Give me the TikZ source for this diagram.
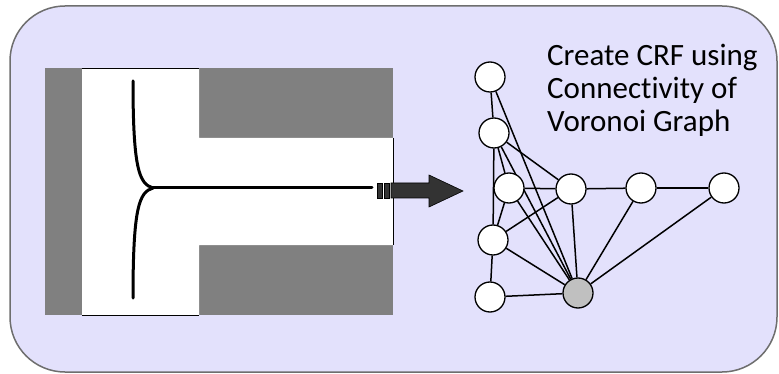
\documentclass[tikz,border=0pt]{standalone}
\usepackage{fontspec}
\setmainfont{Carlito}[Ligatures={NoCommon,NoDiscretionary,NoRare}]
\usepackage{tikz}
\usetikzlibrary{positioning, backgrounds}

\definecolor{panelfill}{HTML}{E3E1FC}
\definecolor{panelline}{HTML}{6E6E6E}
\definecolor{wallgray}{HTML}{808080}
\definecolor{arrowdark}{HTML}{333333}
\definecolor{hubgray}{HTML}{C0C0C0}

\pgfdeclarelayer{edgelayer}
\pgfsetlayers{background,edgelayer,main}

\begin{document}
\begin{tikzpicture}[
    x=1pt, y=-1pt,
    % Graph styles
    vtx/.style={circle, draw=black, line width=1.3pt, fill=white, minimum size=30pt, inner sep=0pt},
    hub/.style={vtx, fill=hubgray},
    link/.style={line width=1.5pt, draw=black},
    % Map styles
    wall/.style={fill=wallgray, draw=none},
    skel/.style={line width=3pt, draw=black, line cap=round},
    stripe/.style={fill=arrowdark, draw=black, line width=0.6pt},
    caption/.style={font=\fontsize{31}{33}\selectfont, align=left, anchor=north west, inner sep=0pt}
]
\useasboundingbox (0,0) rectangle (779,374);

% -----------------------------------------------------------
% Panel and map (background layer)
% -----------------------------------------------------------
\begin{scope}[on background layer]
    \draw[fill=panelfill, draw=panelline, line width=1.5pt, rounded corners=55pt] (10,6) rectangle (777,372);

    % T-shaped free space
    \fill[wall] (45,68) rectangle (393,315);
    \fill[white] (82,68) -- (199,68) -- (199,138) -- (393,138) -- (393,245)
        -- (199,245) -- (199,315) -- (82,315) -- cycle;
    \draw[line width=0.8pt] (82,68) -- (199,68);
    \draw[line width=0.8pt] (393,138) -- (393,245);
    \draw[line width=0.8pt] (82,315) -- (199,315);

    % Voronoi skeleton
    \coordinate (junc) at (153,188);
    \draw[skel] (133,81) .. controls (133,168) and (139,184) .. (junc);
    \draw[skel] (junc) .. controls (139,192) and (133,208) .. (133,298);
    \draw[skel] (junc) -- (372,188);

    % Striped block arrow
    \filldraw[stripe] (377,183) rectangle (382,198);
    \filldraw[stripe] (384,183) rectangle (389,198);
    \filldraw[stripe]
        (391,183) -- (429,183) -- (429,175) -- (463,191) -- (429,207) -- (429,198) -- (391,198) -- cycle;
\end{scope}

% -----------------------------------------------------------
% Graph
% -----------------------------------------------------------
\node[vtx] (v1) at (490,77) {};
\node[vtx] (v2) at (494,133) {};
\node[vtx] (v3) at (509,188) {};
\node[vtx] (v4) at (571,189) {};
\node[vtx] (v5) at (641,188) {};
\node[vtx] (v6) at (724,188) {};
\node[vtx] (v7) at (493,240) {};
\node[vtx] (v8) at (490,297) {};
\node[hub] (h)  at (578,293) {};

\begin{pgfonlayer}{edgelayer}
\foreach \a/\b in {v1/v2, v1/h, v2/v3, v2/v4, v2/v7, v2/h, v3/v4, v3/v7, v3/h,
                   v4/v5, v4/v7, v4/h, v5/v6, v5/h, v6/h, v7/v8, v7/h, v8/h}
    \draw[link] (\a) -- (\b);
\end{pgfonlayer}

\node[caption] (title) at (547,44) {Create CRF using\\Connectivity of\\Voronoi Graph};

\end{tikzpicture}
\end{document}
